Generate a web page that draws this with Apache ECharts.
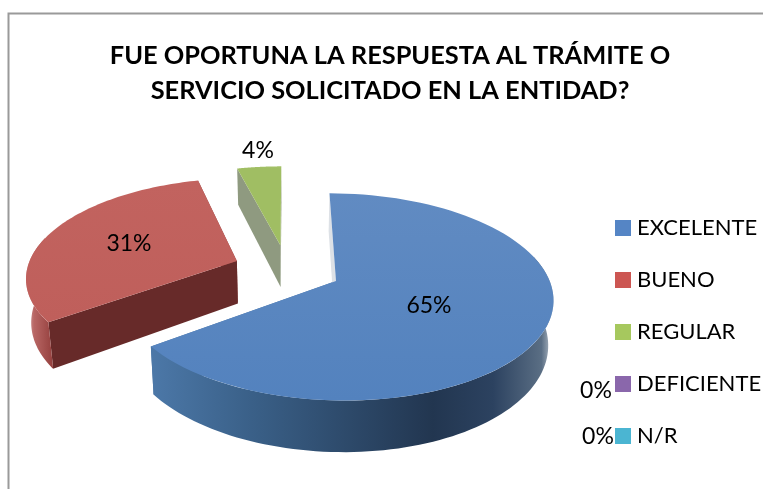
<!DOCTYPE html>
<html><head><meta charset="utf-8">
<style>html,body{margin:0;padding:0;background:#fff}#c{width:763px;height:489px}</style>
<script src="https://cdn.jsdelivr.net/npm/echarts@6/dist/echarts.min.js"></script>
</head><body><div id="c"></div>
<script>
const categories = ['EXCELENTE','BUENO','REGULAR','DEFICIENTE','N/R'];
const percentValues = [65,31,4,0,0];
const legendColors = ['#5585C5','#CC5652','#A6C85E','#8A67AB','#4BB5D2'];
const titleLines = ['FUE OPORTUNA LA RESPUESTA AL TRÁMITE O','SERVICIO SOLICITADO EN LA ENTIDAD?'];

// pie geometry and perspective
const view = {cx:287, cy:269.5, R:210, explode:54, ky:0.465, f:1400, depth:43, shrink:0.98};
const FONT = 'Lato, "Open Sans", sans-serif';
const sliceStyles = [
  {top:['#618BC2','#5382BE'], startWall:'#DDE1E6', endWall:'#4A75A5',
   outer:[[0,'#4C78A8'],[0.25,'#3A6088'],[0.7,'#223650'],[0.85,'#2C4260'],[0.97,'#5A6E84'],[1,'#C0C8D0']]},
  {top:['#C2635F','#BF5F5B'], startWall:'#672A29', endWall:'#8F3F3D',
   outer:[[0,'#D8A8A8'],[0.3,'#B86664'],[1,'#943F3D']]},
  {top:['#A5C269','#A0BE63'], startWall:'#8F9A80', endWall:'#8A9672',
   outer:[[0,'#8F9A80'],[1,'#8A9672']]}
];
const labelPos = [[429,306],[129,244],[258,151],[596,391],[598,437]];

const TWO_PI = Math.PI*2;
function project(X,Z,lower){
  const s = view.f/(view.f-Z);
  let x = view.cx + X*s, y = view.cy + view.ky*Z*s;
  if(lower){ x = view.cx + (x-view.cx)*view.shrink; y += view.depth*s; }
  return [x,y];
}
function sliceAngles(i){
  const total = percentValues.reduce((a,b)=>a+b,0);
  let acc = 0;
  for(let k=0;k<i;k++) acc += percentValues[k];
  return [acc/total*TWO_PI,(acc+percentValues[i])/total*TWO_PI];
}
function renderSlice(i){
  const v = percentValues[i];
  const kids = [];
  if(v>0){
    const [a0,a1] = sliceAngles(i), mid=(a0+a1)/2;
    const ox = Math.sin(mid)*view.explode, oz = -Math.cos(mid)*view.explode;
    const st = sliceStyles[i];
    const rim = (t,low)=>project(ox+Math.sin(t)*view.R, oz-Math.cos(t)*view.R, low);
    const apexT = project(ox,oz,false), apexL = project(ox,oz,true);
    const n = 90, arcT=[];
    for(let k=0;k<=n;k++) arcT.push(rim(a0+(a1-a0)*k/n,false));
    const wall=(t,color)=>({type:'polygon',shape:{points:[apexT,rim(t,false),rim(t,true),apexL]},style:{fill:color}});
    kids.push(wall(a1,st.endWall));
    kids.push(wall(a0,st.startWall));
    // outer wall: front half of the arc only
    const w0 = Math.max(a0,Math.PI*0.42), w1 = Math.min(a1,Math.PI*1.58);
    if(w1>w0){
      const up=[],lo=[];
      for(let k=0;k<=n;k++){const t=w0+(w1-w0)*k/n; up.push(rim(t,false)); lo.unshift(rim(t,true));}
      const xs = up.concat(lo).map(p=>p[0]);
      kids.push({type:'polygon',shape:{points:up.concat(lo)},style:{
        fill:{type:'linear',global:true,x:Math.min(...xs),y:0,x2:Math.max(...xs),y2:0,colorStops:st.outer.map(o=>({offset:o[0],color:o[1]}))}}});
    }
    const ys = arcT.map(p=>p[1]);
    kids.push({type:'polygon',shape:{points:[apexT].concat(arcT)},style:{
      fill:{type:'linear',global:true,x:0,y:Math.min(...ys),x2:0,y2:Math.max(...ys),colorStops:[{offset:0,color:st.top[0]},{offset:1,color:st.top[1]}]}}});
  }
  kids.push({type:'text',z2:10,style:{x:labelPos[i][0],y:labelPos[i][1],text:v+'%',align:'center',verticalAlign:'middle',
    font:'23px '+FONT,fill:'#000'}});
  return {type:'group',children:kids};
}
const order = [2,1,0,3,4];
const chart = echarts.init(document.getElementById('c'),null,{renderer:'canvas'});
chart.setOption({
  animation:false,
  backgroundColor:'#fff',
  color:legendColors,
  title:{text:titleLines.join('\n'),left:385,top:33,textAlign:'center',
    textStyle:{fontFamily:FONT,fontWeight:'bold',fontSize:25.4,lineHeight:35,color:'#000'}},
  legend:{data:categories,orient:'vertical',left:610,top:212,itemWidth:16,itemHeight:16,itemGap:30,icon:'rect',
    textStyle:{fontFamily:FONT,fontSize:22,color:'#000',padding:[0,0,0,1]}},
  graphic:[{type:'polyline',shape:{points:[[8.5,489],[8.5,13.5],[763,13.5]]},style:{stroke:'#9A9A9A',lineWidth:2,fill:null}}],
  xAxis:{show:false},yAxis:{show:false},
  series:categories.map((name,i)=>({
    name,type:'custom',coordinateSystem:'none',z:2+order.indexOf(i),
    itemStyle:{color:legendColors[i]},
    data:[percentValues[i]],
    renderItem:()=>renderSlice(i)
  }))
});
</script></body></html>
